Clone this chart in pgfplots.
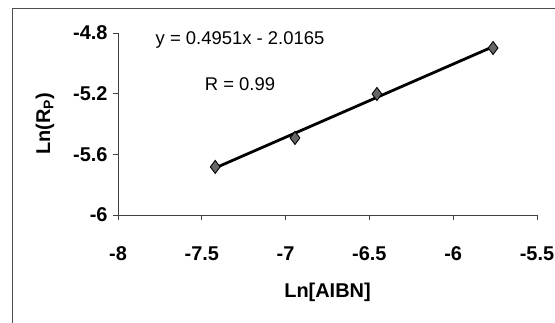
\documentclass[border=0pt]{standalone}
\usepackage{pgfplots}
\pgfplotsset{compat=1.18}
\usepackage{fontspec}
\setmainfont{Liberation Sans}
\begin{document}
\begin{tikzpicture}[x=1bp,y=1bp]
\begin{axis}[
  at={(0,0)}, anchor=south west,
  scale only axis,
  width=419bp, height=182bp,
  xmin=-8, xmax=-5.5, ymin=-6, ymax=-4.8,
  axis x line*=bottom, axis y line*=left,
  axis line style={draw=black!75, line width=0.8pt, -},
  tick align=outside,
  major tick length=5bp,
  tick style={draw=black!75, line width=0.8pt},
  xtick={-8,-7.5,-7,-6.5,-6,-5.5},
  xticklabels={-8,-7.5,-7,-6.5,-6,-5.5},
  ytick={-6,-5.6,-5.2,-4.8},
  yticklabels={-6,-5.6,-5.2,-4.8},
  ticklabel style={font=\fontsize{20}{22}\selectfont\bfseries},
  xticklabel style={yshift=-23bp},
  yticklabel style={xshift=-2bp},
  xlabel={Ln[AIBN]},
  label style={font=\fontsize{20}{22}\selectfont\bfseries},
  xlabel style={at={(axis description cs:0.5,0)}, anchor=center, yshift=-77bp},
  clip=false,
]
\addplot[black, line width=2.8pt, no markers] coordinates {(-7.42,-5.69) (-5.762,-4.89)};
\addplot[only marks, mark=diamond*, mark size=6.5bp, mark options={fill=black!60, draw=black, line width=0.9pt}]
  coordinates {(-7.42,-5.683) (-6.944,-5.492) (-6.455,-5.202) (-5.762,-4.899)};
\node[font=\fontsize{18.5}{20}\selectfont, anchor=center] at (axis cs:-7.272,-4.846) {y = 0.4951x - 2.0165};
\node[font=\fontsize{18.5}{20}\selectfont, anchor=center] at (axis cs:-7.272,-5.136) {R = 0.99};
\end{axis}
\node[rotate=90, anchor=center, font=\fontsize{20}{22}\selectfont\bfseries] at (-73bp,91bp) {Ln(R\textsubscript{P})};
\draw[black!70, line width=0.6pt] (-106bp,-110bp) -- (-106bp,207bp) -- (440bp,207bp);
\pgfresetboundingbox
\useasboundingbox (-118bp,-108bp) rectangle (437bp,215bp);
\end{tikzpicture}
\end{document}
